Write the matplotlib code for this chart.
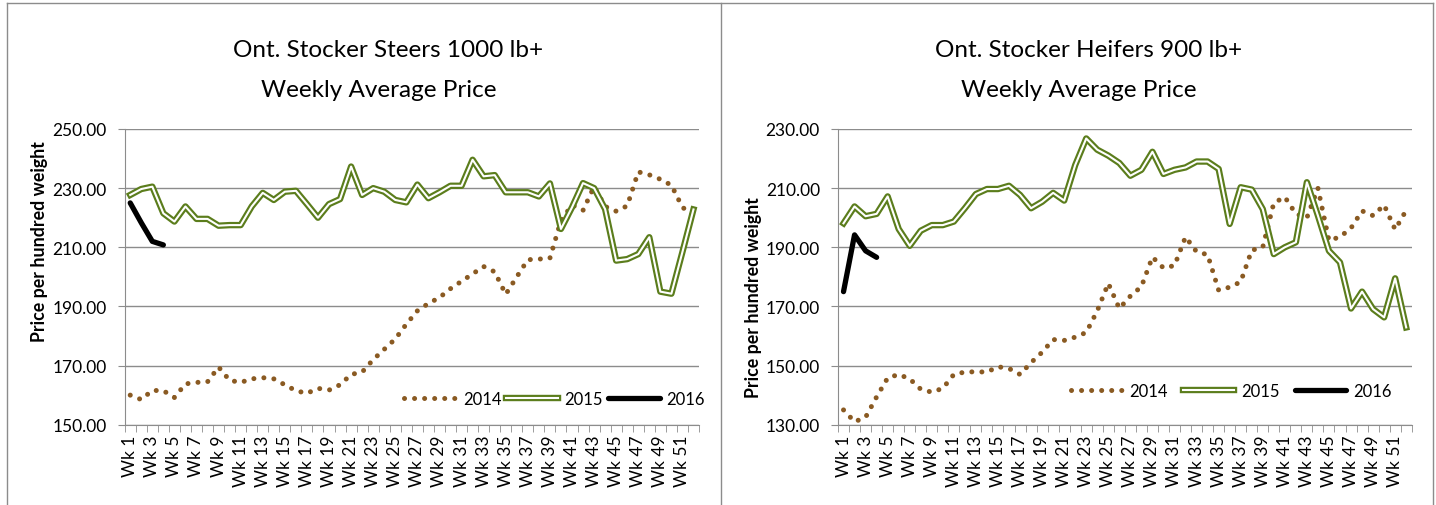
import numpy as np
import matplotlib
matplotlib.use("Agg")
from matplotlib import pyplot as plt
from matplotlib.lines import Line2D
from matplotlib.legend_handler import HandlerTuple

plt.rcParams['font.family'] = ['Lato', 'DejaVu Sans']

weeks = ["Wk %d" % w for w in range(1, 53)]

# Ont. Stocker Steers 1000 lb+
steers_2014 = [160.0, 158.5, 161.6, 161.5, 159.2, 163.8, 164.3, 164.5, 169.5, 165.0,
               164.3, 165.5, 165.9, 165.5, 163.5, 161.5, 160.6, 162.3, 161.7, 163.5,
               167.0, 167.8, 172.0, 175.5, 179.0, 184.0, 188.5, 191.0, 193.0, 196.0,
               198.5, 201.0, 203.5, 201.7, 194.1, 200.0, 205.8, 206.0, 206.3, 219.0,
               224.3, 222.5, 230.5, 223.8, 222.2, 224.0, 235.5, 234.5, 233.0, 231.0,
               223.5, 221.0]
steers_2015 = [227.7, 229.7, 230.5, 221.5, 218.7, 223.8, 219.6, 219.6, 217.3, 217.5,
               217.5, 223.8, 228.4, 226.0, 228.8, 229.1, 224.6, 220.0, 224.6, 226.3,
               237.3, 227.7, 230.0, 228.8, 226.0, 225.2, 231.2, 226.6, 228.6, 230.8,
               230.8, 239.6, 234.0, 234.4, 228.6, 228.6, 228.6, 227.2, 231.6, 216.2,
               223.5, 231.7, 230.0, 222.9, 205.5, 206.0, 207.7, 213.4, 195.0, 194.3,
               208.4, 222.8]
steers_2016 = [225.0, 218.3, 212.0, 210.8]

# Ont. Stocker Heifers 900 lb+
heifers_2014 = [135.0, 131.0, 132.5, 139.4, 145.8, 147.0, 145.5, 142.0, 141.0, 142.3,
                147.0, 147.8, 147.9, 147.8, 149.6, 149.0, 147.0, 151.0, 154.5, 158.8,
                158.5, 159.6, 161.2, 168.5, 177.8, 169.3, 173.5, 176.7, 186.7, 183.0,
                183.8, 193.5, 188.5, 187.5, 175.5, 176.5, 178.3, 189.0, 190.0, 205.0,
                207.0, 201.3, 200.0, 210.0, 192.3, 193.5, 196.5, 202.3, 200.7, 204.3,
                196.0, 202.5]
heifers_2015 = [198.1, 203.8, 200.5, 201.3, 207.2, 196.2, 190.5, 195.6, 197.5, 197.5,
                198.7, 203.2, 208.0, 209.7, 209.7, 210.8, 207.7, 203.2, 205.4, 208.4,
                205.8, 217.8, 226.8, 223.0, 221.0, 218.5, 214.2, 216.2, 222.3, 214.8,
                216.2, 217.0, 219.0, 219.0, 216.5, 197.9, 210.3, 209.5, 202.9, 187.7,
                190.0, 191.7, 212.0, 200.7, 188.8, 184.9, 169.3, 175.0, 169.1, 166.3,
                179.5, 162.9]
heifers_2016 = [175.0, 194.2, 188.8, 186.6]

c14 = '#8a5a22'
c15 = '#5b7d1c'
grid_c = '#8c8c8c'

W, H = 1436, 506
fig = plt.figure(figsize=(W / 100, H / 100), dpi=100)

def panel(rect, title1, title2, t1x, t2x, d14, d15, d16, ylo, yhi,
          ylab_x, ylab_y, leg_xy, colsp):
    ax = fig.add_axes(rect)
    x14 = np.arange(len(d14))
    x15 = np.arange(len(d15))
    x16 = np.arange(len(d16))
    ax.plot(x14, d14, color=c14, lw=3.6, linestyle=(0, (0.01, 2.0)),
            dash_capstyle='round', zorder=3)
    ax.plot(x15, d15, color=c15, lw=4.6, solid_joinstyle='round', zorder=4)
    ax.plot(x15, d15, color='white', lw=1.5, solid_joinstyle='round', zorder=5)
    ax.plot(x16, d16, color='black', lw=3.8, solid_capstyle='round', zorder=6)

    ax.set_xlim(-0.5, len(weeks) - 0.5)
    ax.set_ylim(ylo, yhi)
    ax.set_yticks(np.arange(ylo, yhi + 1, 20))
    ax.set_yticklabels(["%.2f" % v for v in np.arange(ylo, yhi + 1, 20)])
    ax.yaxis.grid(True, color=grid_c, lw=1.0)
    ax.set_axisbelow(True)

    ax.set_xticks(np.arange(0, len(weeks), 2))
    ax.set_xticklabels(weeks[::2], rotation=90)
    ax.set_xticks(np.arange(-0.5, len(weeks), 1), minor=True)
    ax.tick_params(axis='x', which='major', length=0, pad=7, labelsize=12.5)
    ax.tick_params(axis='x', which='minor', length=5, color=grid_c)
    ax.tick_params(axis='y', length=5, color=grid_c, labelsize=12.5, pad=8)

    for s in ['top', 'right']:
        ax.spines[s].set_visible(False)
    for s in ['left', 'bottom']:
        ax.spines[s].set_color(grid_c)

    fig.text(t1x / W, 1 - 57 / H, title1, ha='center', va='baseline', fontsize=17.5)
    fig.text(t2x / W, 1 - 97 / H, title2, ha='center', va='baseline', fontsize=17.5)
    fig.text(ylab_x / W, 1 - ylab_y / H, 'Price per hundred weight', rotation=90,
             ha='center', va='center', fontsize=12.8, fontweight='bold')

    h14 = Line2D([], [], color=c14, lw=3.6, linestyle=(0, (0.01, 2.0)),
                 dash_capstyle='round')
    h15 = (Line2D([], [], color=c15, lw=4.6), Line2D([], [], color='white', lw=1.5))
    h16 = Line2D([], [], color='black', lw=3.8, solid_capstyle='round')
    ax.legend([h14, h15, h16], ['2014', '2015', '2016'], ncol=3, frameon=False,
              loc='center left', bbox_to_anchor=leg_xy, fontsize=12,
              borderaxespad=0, borderpad=0,
              handlelength=3.1, handletextpad=0.4, columnspacing=colsp,
              handler_map={tuple: HandlerTuple(ndivide=1, pad=0)})
    return ax

panel([124.7 / W, 1 - 425.7 / H, 574.3 / W, 295.7 / H],
      'Ont. Stocker Steers 1000 lb+', 'Weekly Average Price', 388, 379,
      steers_2014, steers_2015, steers_2016, 150, 250,
      40, 242, (0.487, 0.087), 0.3)
panel([838 / W, 1 - 425.7 / H, 573.7 / W, 295.7 / H],
      'Ont. Stocker Heifers 900 lb+', 'Weekly Average Price', 1089, 1079,
      heifers_2014, heifers_2015, heifers_2016, 130, 230,
      753, 298, (0.406, 0.114), 0.9)

# chart frames
border = '#8c8c8c'
for xs, ys in [([7 / W, 1433 / W], [1 - 4 / H] * 2),
               ([7 / W] * 2, [0, 1 - 4 / H]),
               ([1433 / W] * 2, [0, 1 - 4 / H]),
               ([720.5 / W] * 2, [0, 1 - 4 / H])]:
    fig.add_artist(Line2D(xs, ys, color=border, lw=1.0, transform=fig.transFigure))

fig.savefig('out.png', dpi=100)
